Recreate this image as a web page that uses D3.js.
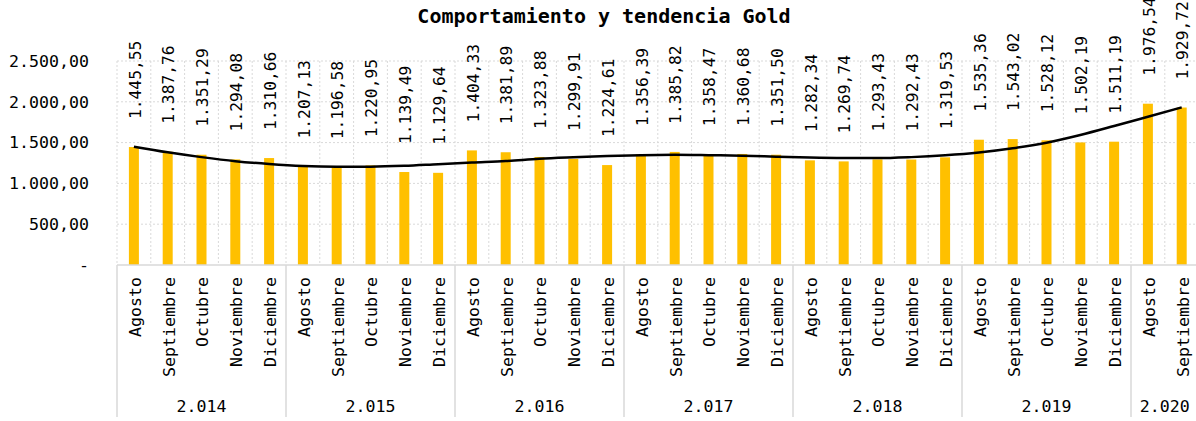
<!DOCTYPE html>
<html>
<head>
<meta charset="utf-8">
<script src="https://cdn.jsdelivr.net/npm/d3@7"></script>
<style>
  body { margin: 0; background: #fff; }
  text { font-family: "DejaVu Sans Mono", "Liberation Mono", monospace; fill: #000; }
</style>
</head>
<body>
<div id="chart"></div>
<script>
// data
var months = ["Agosto", "Septiembre", "Octubre", "Noviembre", "Diciembre"];
var years = [2014, 2015, 2016, 2017, 2018, 2019, 2020];
var monthsPerYear = [5, 5, 5, 5, 5, 5, 2];
var values = [
    1445.55, 1387.76, 1351.29, 1294.08, 1310.66,
    1207.13, 1196.58, 1220.95, 1139.49, 1129.64,
    1404.33, 1381.89, 1323.88, 1299.91, 1224.61,
    1356.39, 1385.82, 1358.47, 1360.68, 1351.50,
    1282.34, 1269.74, 1293.43, 1292.43, 1319.53,
    1535.36, 1543.02, 1528.12, 1502.19, 1511.19,
    1976.54, 1929.72
];
// trend line (polynomial trend in the original), read per category
var trend = [
    1450, 1381, 1322, 1272, 1238, 1214, 1205, 1205, 1215, 1236,
    1256, 1274, 1302, 1320, 1335, 1346, 1350, 1346, 1340, 1328,
    1317, 1311, 1310, 1322, 1344, 1378, 1430, 1499, 1593, 1703,
    1817, 1932
];
var yTicks = [0, 500, 1000, 1500, 2000, 2500];

var width = 1196, height = 421;
var plot = {left: 117, right: 1198.6, top: 61, bottom: 265};

var es = d3.formatLocale({decimal: ",", thousands: ".", grouping: [3], currency: ["", ""]});
var fmt2 = es.format(",.2f");
var fmtYear = es.format(",d");

// build the category list from the groups
var cats = [];
years.forEach(function(yr, gi) {
    for (var m = 0; m < monthsPerYear[gi]; m++) {
        cats.push({year: yr, month: months[m], i: cats.length});
    }
});
cats.forEach(function(c, i) { c.value = values[i]; c.trend = trend[i]; });

var svg = d3.select("#chart")
    .append("svg")
        .attr("width", width)
        .attr("height", height);

var x = d3.scaleBand()
    .domain(cats.map(function(d) { return d.i; }))
    .range([plot.left, plot.right])
    .padding(0);

var y = d3.scaleLinear()
    .domain([0, 2500])
    .range([plot.bottom, plot.top]);

var bw = x.bandwidth();

// gridlines
svg.append("g")
    .selectAll("line")
    .data(yTicks.filter(function(t) { return t > 0; }))
    .enter()
    .append("line")
        .attr("x1", plot.left)
        .attr("x2", plot.right)
        .attr("y1", function(d) { return y(d); })
        .attr("y2", function(d) { return y(d); })
        .attr("stroke", "#d9d9d9")
        .attr("stroke-dasharray", "2,2");

svg.append("g")
    .selectAll("line")
    .data(cats)
    .enter()
    .append("line")
        .attr("x1", function(d) { return x(d.i); })
        .attr("x2", function(d) { return x(d.i); })
        .attr("y1", plot.top)
        .attr("y2", plot.bottom)
        .attr("stroke", "#d9d9d9")
        .attr("stroke-dasharray", "2,2");

// y axis labels
svg.append("g")
    .selectAll("text")
    .data(yTicks)
    .enter()
    .append("text")
        .attr("x", 89)
        .attr("y", function(d) { return y(d); })
        .attr("dy", "0.35em")
        .style("text-anchor", "end")
        .style("font-size", "16.6px")
        .text(function(d) { return d === 0 ? "-" : fmt2(d); });

// bars
svg.append("g")
    .selectAll("rect")
    .data(cats)
    .enter()
    .append("rect")
        .attr("x", function(d) { return x(d.i) + bw / 2 - 5; })
        .attr("y", function(d) { return y(d.value); })
        .attr("width", 10)
        .attr("height", function(d) { return y(0) - y(d.value); })
        .attr("fill", "#ffc000");

// trend line
svg.append("path")
    .datum(cats)
    .attr("fill", "none")
    .attr("stroke", "#000")
    .attr("stroke-width", 2.5)
    .attr("d", d3.line()
        .curve(d3.curveMonotoneX)
        .x(function(d) { return x(d.i) + bw / 2; })
        .y(function(d) { return y(d.trend); }));

// value labels
svg.append("g")
    .selectAll("text")
    .data(cats)
    .enter()
    .append("text")
        .attr("transform", function(d) {
            return "translate(" + (x(d.i) + bw / 2 + 1) + "," + (y(d.value) - 28) + ") rotate(-90)";
        })
        .attr("dy", "0.35em")
        .style("text-anchor", "start")
        .style("font-size", "16.3px")
        .text(function(d) { return fmt2(d.value); });

// category axis
svg.append("line")
    .attr("x1", plot.left)
    .attr("x2", plot.right)
    .attr("y1", plot.bottom)
    .attr("y2", plot.bottom)
    .attr("stroke", "#d9d9d9")
    .attr("stroke-width", 1.5);

svg.append("g")
    .selectAll("text")
    .data(cats)
    .enter()
    .append("text")
        .attr("transform", function(d) {
            return "translate(" + (x(d.i) + bw / 2 + 1) + "," + (plot.bottom + 12) + ") rotate(-90)";
        })
        .attr("dy", "0.35em")
        .style("text-anchor", "end")
        .style("font-size", "16.6px")
        .text(function(d) { return d.month; });

// year groups
var groups = [];
var start = 0;
years.forEach(function(yr, gi) {
    groups.push({year: yr, first: start, last: start + monthsPerYear[gi] - 1});
    start += monthsPerYear[gi];
});

svg.append("g")
    .selectAll("line")
    .data(groups)
    .enter()
    .append("line")
        .attr("x1", function(d) { return x(d.first); })
        .attr("x2", function(d) { return x(d.first); })
        .attr("y1", plot.bottom)
        .attr("y2", 417)
        .attr("stroke", "#d9d9d9")
        .attr("stroke-width", 1.5);

svg.append("g")
    .selectAll("text")
    .data(groups)
    .enter()
    .append("text")
        .attr("x", function(d) { return (x(d.first) + x(d.last) + bw) / 2; })
        .attr("y", 412)
        .style("text-anchor", "middle")
        .style("font-size", "16.6px")
        .text(function(d) { return fmtYear(d.year); });

// title
svg.append("text")
    .attr("x", 604)
    .attr("y", 23)
    .style("text-anchor", "middle")
    .style("font-size", "20px")
    .style("font-weight", "bold")
    .text("Comportamiento y tendencia Gold");
</script>
</body>
</html>
